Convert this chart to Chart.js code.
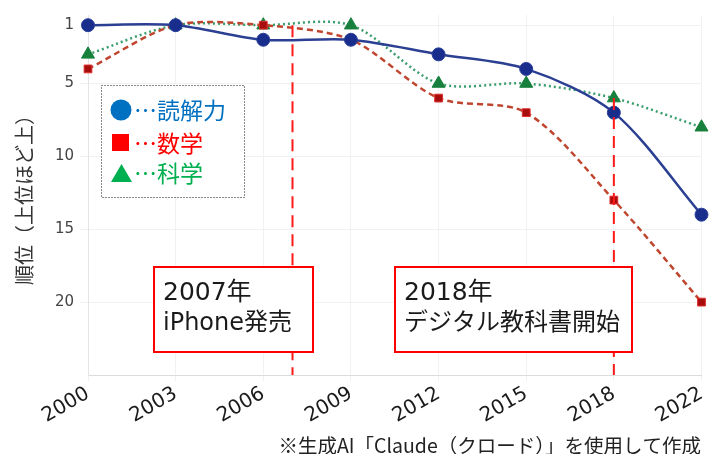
<!DOCTYPE html>
<html lang="ja">
<head>
<meta charset="utf-8">
<script src="https://cdn.jsdelivr.net/npm/chart.js@4"></script>
<style>
  body { margin: 0; background: #fff; }
  #wrap { width: 710px; height: 454px; }
</style>
</head>
<body>
<div id="wrap"><canvas id="rankChart" width="710" height="454"></canvas></div>
<script>
// PISA 順位データ（上位ほど上）
const years = ['2000', '2003', '2006', '2009', '2012', '2015', '2018', '2022'];
const readingRank = [1, 1, 2, 2, 3, 4, 7, 14];
const mathRank = [4, 1, 1, 2, 6, 7, 13, 20];
const scienceRank = [3, 1, 1, 1, 5, 5, 6, 8];
const yTicks = [1, 5, 10, 15, 20];

// 凡例
const legendLabels = ['…読解力', '…数学', '…科学'];
const legendColors = ['#0070c0', '#ff0000', '#00b050'];

// 出来事の注記（位置は年の補間、線の上端は順位）
const eventYears = [2007, 2018];
const eventTopRank = [1, 6];
const eventLines = [['2007年', 'iPhone発売'], ['2018年', 'デジタル教科書開始']];

const footnote = '※生成AI「Claude（クロード）」を使用して作成';

const FONT = '"DejaVu Sans", "Noto Sans CJK JP", sans-serif';
const JP_FONT = '"Noto Sans CJK JP", sans-serif';

// year -> pixel on category axis (fractional between labels)
function yearToPixel(xScale, year) {
    const nums = years.map(Number);
    for (let i = 0; i < nums.length - 1; i++) {
        if (year >= nums[i] && year <= nums[i + 1]) {
            const t = (year - nums[i]) / (nums[i + 1] - nums[i]);
            const a = xScale.getPixelForValue(i);
            const b = xScale.getPixelForValue(i + 1);
            return a + (b - a) * t;
        }
    }
    return xScale.getPixelForValue(nums.length - 1);
}

const overlayPlugin = {
    id: 'overlay',
    afterDatasetsDraw(chart) {
        const ctx = chart.ctx;
        const x = chart.scales.x;
        const y = chart.scales.y;
        const area = chart.chartArea;

        // vertical dashed lines
        ctx.save();
        ctx.strokeStyle = '#ff1a1a';
        ctx.lineWidth = 2;
        ctx.setLineDash([12, 7]);
        eventYears.forEach((yr, i) => {
            const px = yearToPixel(x, yr);
            ctx.beginPath();
            ctx.moveTo(px, y.getPixelForValue(eventTopRank[i]));
            ctx.lineTo(px, area.bottom);
            ctx.stroke();
        });
        ctx.restore();

        // annotation boxes
        const boxes = [
            { left: 154, top: 267, width: 159, height: 85 },
            { left: 395, top: 267, width: 237, height: 85 }
        ];
        ctx.save();
        boxes.forEach((b, i) => {
            ctx.fillStyle = '#fff';
            ctx.fillRect(b.left, b.top, b.width, b.height);
            ctx.strokeStyle = '#ff0000';
            ctx.lineWidth = 2;
            ctx.setLineDash([]);
            ctx.strokeRect(b.left, b.top, b.width, b.height);
            ctx.fillStyle = '#1a1a1a';
            ctx.textAlign = 'left';
            ctx.textBaseline = 'middle';
            ctx.font = '25px ' + FONT;
            ctx.fillText(eventLines[i][0], b.left + 9, b.top + 26);
            ctx.font = '24px ' + FONT;
            ctx.fillText(eventLines[i][1], b.left + 9, b.top + 57);
        });
        ctx.restore();

        // legend box
        ctx.save();
        ctx.fillStyle = '#fff';
        ctx.fillRect(101, 85, 143, 112);
        ctx.strokeStyle = '#111';
        ctx.lineWidth = 1;
        ctx.setLineDash([1, 2]);
        ctx.strokeRect(101.5, 85.5, 143, 112);
        ctx.setLineDash([]);
        const rowY = [110, 143, 173];
        legendLabels.forEach((label, i) => {
            const cy = rowY[i];
            ctx.fillStyle = legendColors[i];
            ctx.beginPath();
            if (i === 0) {
                ctx.arc(121, cy, 10.5, 0, Math.PI * 2);
            } else if (i === 1) {
                ctx.rect(112, cy - 9, 17, 17);
            } else {
                ctx.moveTo(121.5, cy - 9);
                ctx.lineTo(132, cy + 9);
                ctx.lineTo(111, cy + 9);
                ctx.closePath();
            }
            ctx.fill();
            ctx.font = '23px ' + JP_FONT;
            ctx.textAlign = 'left';
            ctx.textBaseline = 'middle';
            ctx.fillText(label, 134, cy);
        });
        ctx.restore();
    },
    afterDraw(chart) {
        const ctx = chart.ctx;
        ctx.save();
        ctx.fillStyle = '#222';
        ctx.font = '19.5px ' + JP_FONT;
        ctx.textAlign = 'right';
        ctx.textBaseline = 'middle';
        ctx.fillText(footnote, 701, 446);
        ctx.restore();
    }
};

const ctx = document.getElementById('rankChart').getContext('2d');
window.rankChart = new Chart(ctx, {
    type: 'line',
    data: {
        labels: years,
        datasets: [
            {
                label: '読解力',
                data: readingRank,
                borderColor: '#2b3f93',
                borderWidth: 2.5,
                backgroundColor: '#182d8c',
                pointStyle: 'circle',
                pointRadius: 6.5,
                pointBorderColor: '#2a3f9a',
                pointBorderWidth: 1,
                tension: 0.3
            },
            {
                label: '数学',
                data: mathRank,
                borderColor: '#c0452f',
                borderWidth: 2.5,
                borderDash: [6, 4],
                backgroundColor: '#a80d0d',
                pointStyle: 'rect',
                pointRadius: 5.5,
                pointBorderColor: '#e03030',
                pointBorderWidth: 1,
                tension: 0.3
            },
            {
                label: '科学',
                data: scienceRank,
                borderColor: '#3a9e6c',
                borderWidth: 2.5,
                borderDash: [2, 3],
                backgroundColor: '#16803c',
                pointStyle: 'triangle',
                pointRadius: 7.5,
                pointBorderColor: '#16803c',
                pointBorderWidth: 1,
                tension: 0.3
            }
        ]
    },
    options: {
        responsive: false,
        animation: false,
        devicePixelRatio: 1,
        layout: { padding: { top: 12, right: 8, left: 0, bottom: 0 } },
        plugins: {
            legend: { display: false },
            tooltip: { enabled: false }
        },
        scales: {
            x: {
                grid: { color: '#f1f1f1', tickLength: 6 },
                border: { color: '#dcdcdc' },
                ticks: {
                    color: '#1a1a1a',
                    font: { family: FONT, size: 20 },
                    minRotation: 30,
                    maxRotation: 30,
                    padding: 1
                },
                afterFit: s => {
                    s.height = 79;
                    s.paddingLeft = 0;
                    s.paddingRight = 0;
                }
            },
            y: {
                reverse: true,
                min: 0.3,
                max: 25,
                grid: { color: '#f1f1f1', tickLength: 8 },
                border: { color: '#e4e4e4' },
                afterBuildTicks: s => { s.ticks = yTicks.map(v => ({ value: v })); },
                ticks: {
                    color: '#444',
                    font: { family: FONT, size: 15 },
                    padding: 6
                },
                title: {
                    display: true,
                    text: '順位（上位ほど上）',
                    color: '#333',
                    font: { family: JP_FONT, size: 20 },
                    padding: { top: 12, bottom: 0 }
                },
                afterFit: s => { s.width = 88; }
            }
        }
    },
    plugins: [overlayPlugin]
});
</script>
</body>
</html>
